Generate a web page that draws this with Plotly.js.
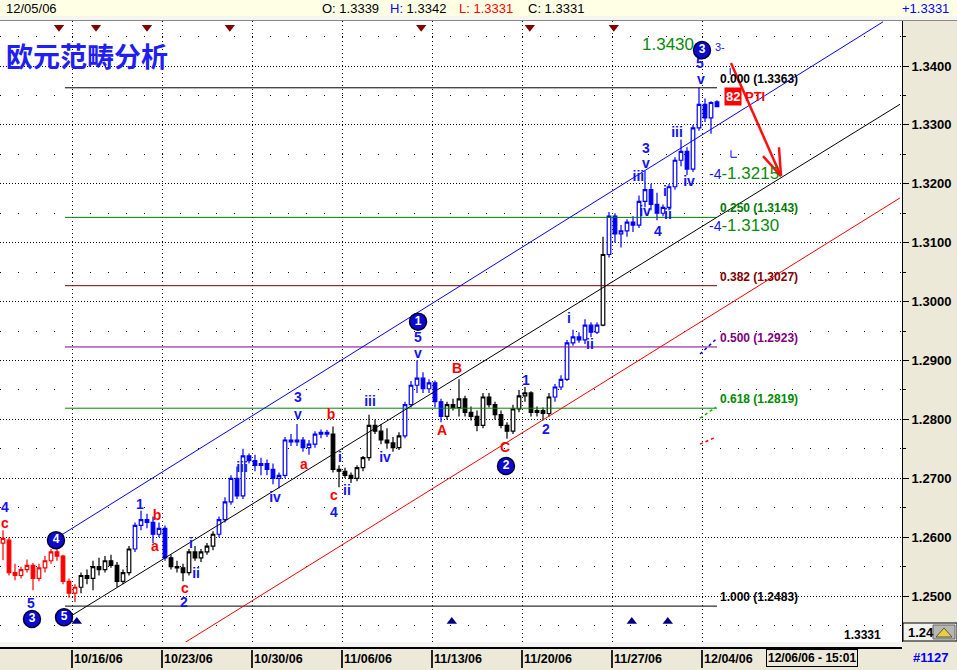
<!DOCTYPE html>
<html><head><meta charset="utf-8">
<script src="https://cdn.plot.ly/plotly-3.0.1.min.js"></script>
<style>html,body{margin:0;padding:0;background:#ECE9D8}#chart{width:957px;height:670px}</style>
</head><body><div id="chart"></div>
<script>
// ---------- DATA ----------
const barOpen = [
1.2590,1.2595,1.2540,1.2535,1.2545,1.2552,1.2530,1.2548,1.2560,1.2575,
1.2568,1.2525,1.2505,1.2515,1.2535,1.2530,1.2550,1.2545,1.2560,1.2552,
1.2525,1.2540,1.2580,1.2620,1.2630,1.2625,1.2605,1.2615,1.2565,1.2550,
1.2548,1.2540,1.2575,1.2565,1.2575,1.2585,1.2605,1.2630,1.2660,1.2700,
1.2670,1.2738,1.2730,1.2722,1.2725,1.2715,1.2700,1.2705,1.2765,1.2762,
1.2765,1.2752,1.2758,1.2775,1.2778,1.2775,1.2715,1.2712,1.2705,1.2700,
1.2718,1.2735,1.2790,1.2780,1.2765,1.2760,1.2752,1.2772,1.2825,1.2858,
1.2870,1.2852,1.2862,1.2830,1.2805,1.2825,1.2820,1.2835,1.2812,1.2805,
1.2790,1.2838,1.2825,1.2808,1.2790,1.2780,1.2818,1.2840,1.2845,1.2812,
1.2815,1.2810,1.2838,1.2855,1.2868,1.2930,1.2940,1.2935,1.2960,1.2948,
1.2960,1.3080,1.3145,1.3115,1.3120,1.3135,1.3130,1.3170,1.3190,1.3165,
1.3150,1.3160,1.3195,1.3240,1.3255,1.3225,1.3295,1.3335,1.3312,1.3339];
const barHigh = [
1.2612,1.2600,1.2555,1.2550,1.2562,1.2556,1.2555,1.2568,1.2580,1.2585,
1.2570,1.2530,1.2520,1.2540,1.2545,1.2560,1.2565,1.2568,1.2570,1.2558,
1.2545,1.2585,1.2625,1.2645,1.2640,1.2635,1.2625,1.2620,1.2570,1.2560,
1.2555,1.2580,1.2585,1.2580,1.2590,1.2610,1.2635,1.2668,1.2705,1.2720,
1.2750,1.2742,1.2740,1.2735,1.2732,1.2725,1.2710,1.2770,1.2775,1.2792,
1.2770,1.2765,1.2780,1.2783,1.2782,1.2788,1.2722,1.2718,1.2710,1.2722,
1.2738,1.2808,1.2800,1.2792,1.2785,1.2770,1.2778,1.2830,1.2865,1.2900,
1.2880,1.2868,1.2866,1.2835,1.2830,1.2835,1.2868,1.2840,1.2822,1.2815,
1.2845,1.2845,1.2830,1.2815,1.2795,1.2825,1.2850,1.2855,1.2848,1.2822,
1.2820,1.2845,1.2860,1.2875,1.2935,1.2952,1.2948,1.2970,1.2965,1.2965,
1.3110,1.3152,1.3150,1.3130,1.3140,1.3145,1.3180,1.3222,1.3200,1.3185,
1.3165,1.3200,1.3245,1.3275,1.3262,1.3300,1.3363,1.3345,1.3340,1.3342];
const barLow = [
1.2561,1.2535,1.2527,1.2530,1.2540,1.2510,1.2525,1.2540,1.2555,1.2560,
1.2520,1.2497,1.2490,1.2505,1.2520,1.2510,1.2535,1.2540,1.2548,1.2515,
1.2520,1.2535,1.2575,1.2612,1.2615,1.2590,1.2600,1.2560,1.2545,1.2540,
1.2525,1.2535,1.2560,1.2558,1.2570,1.2578,1.2600,1.2625,1.2655,1.2665,
1.2665,1.2725,1.2712,1.2705,1.2705,1.2690,1.2683,1.2700,1.2755,1.2755,
1.2745,1.2740,1.2752,1.2768,1.2770,1.2710,1.2685,1.2700,1.2692,1.2695,
1.2712,1.2730,1.2775,1.2758,1.2750,1.2745,1.2748,1.2768,1.2820,1.2845,
1.2845,1.2845,1.2820,1.2795,1.2800,1.2815,1.2805,1.2805,1.2798,1.2780,
1.2785,1.2820,1.2800,1.2785,1.2767,1.2775,1.2812,1.2830,1.2805,1.2805,
1.2798,1.2805,1.2830,1.2850,1.2865,1.2925,1.2930,1.2928,1.2940,1.2945,
1.2958,1.3075,1.3100,1.3092,1.3110,1.3118,1.3125,1.3160,1.3155,1.3138,
1.3145,1.3155,1.3190,1.3230,1.3215,1.3220,1.3290,1.3305,1.3285,1.3331];
const barClose = [
1.2598,1.2540,1.2535,1.2545,1.2552,1.2530,1.2548,1.2560,1.2575,1.2568,
1.2525,1.2505,1.2515,1.2535,1.2530,1.2550,1.2545,1.2560,1.2552,1.2525,
1.2540,1.2580,1.2620,1.2630,1.2625,1.2605,1.2615,1.2565,1.2550,1.2548,
1.2540,1.2575,1.2565,1.2575,1.2585,1.2605,1.2630,1.2660,1.2700,1.2670,
1.2738,1.2730,1.2722,1.2725,1.2715,1.2700,1.2705,1.2765,1.2762,1.2765,
1.2752,1.2758,1.2775,1.2778,1.2775,1.2715,1.2712,1.2705,1.2700,1.2718,
1.2735,1.2790,1.2780,1.2765,1.2760,1.2752,1.2772,1.2825,1.2858,1.2870,
1.2852,1.2862,1.2830,1.2805,1.2825,1.2820,1.2835,1.2812,1.2805,1.2790,
1.2838,1.2825,1.2808,1.2790,1.2780,1.2818,1.2840,1.2845,1.2812,1.2815,
1.2810,1.2838,1.2855,1.2868,1.2930,1.2940,1.2935,1.2960,1.2948,1.2960,
1.3080,1.3145,1.3115,1.3120,1.3135,1.3130,1.3170,1.3190,1.3165,1.3150,
1.3160,1.3195,1.3240,1.3255,1.3225,1.3295,1.3335,1.3312,1.3338,1.3331];

// wave colouring: first bar index of each coloured run
const segStart = [0, 13, 22, 28, 36, 55, 67, 74, 92, 100, 101];
const segColor = ['#ff0000','#000000','#0000ff','#000000','#0000ff','#000000','#0000ff','#000000','#0000ff','#000000','#0000ff'];

const weekLabels = ['10/16/06','10/23/06','10/30/06','11/06/06','11/13/06','11/20/06','11/27/06','12/04/06'];
const firstWeekBar = 11.5, barsPerWeek = 15;

// Fibonacci retracement
const fibRatio = ['0.000','0.250','0.382','0.500','0.618','1.000'];
const fibPrice = [1.3363, 1.3143, 1.3027, 1.2923, 1.2819, 1.2483];
const fibColor = ['#000000','#007a00','#800000','#800080','#008a00','#000000'];
const fibFromBar = 10.33, fibToBar = 119;

// channel lines
const chanX0 = [8.83, 10.17, 29.83], chanY0 = [1.2598, 1.2459, 1.2418];
const chanX1 = [146.67, 149.5, 149.5], chanY1 = [1.3475, 1.3335, 1.3176];
const chanColor = ['#0000ff', '#000000', '#ff0000'];

// wave labels
const blueText = ['4','5','1','i','ii','2','iii','iv','3','v','i','ii','4','iii','iv','5','v','1','2','i','ii','3','v','iii','iv','i','ii','4','iii','iv','5','v'];
const blueX = [0.33,4.67,22.83,31.33,32.17,30.17,39.83,45.33,49.17,49.17,56.17,57.33,55.17,61.17,63.67,69.17,69.17,87.17,90.5,94.33,97.83,107.17,107.17,105.9,107.0,110.33,110.83,109.17,112.33,114.33,116.17,116.33];
const blueY = [1.2649,1.2486,1.2653,1.2588,1.2537,1.2487,1.2716,1.2665,1.2836,1.2807,1.2733,1.2677,1.2641,1.2829,1.2733,1.2937,1.2911,1.2865,1.2782,1.2969,1.2926,1.3259,1.3232,1.3211,1.3152,1.3186,1.3147,1.3118,1.3286,1.3203,1.3403,1.3376];
const redText = ['c','b','a','c','a','b','c','B','A','C'];
const redX = [0.33,25.67,25.33,30.33,50.17,54.67,55.17,75.67,73.17,83.67];
const redY = [1.2622,1.2636,1.2582,1.2512,1.2722,1.2806,1.2669,1.2884,1.2780,1.2750];
const circleText = ['3','4','5','1','2','3'];
const circleX = [4.83, 8.83, 10.17, 69.17, 83.83, 116.5];
const circleY = [1.2461, 1.2595, 1.2464, 1.2966, 1.2721, 1.3427];

// signal triangles
const topTriX = [9.33, 15.5, 24, 37.8, 69.7, 87.8, 101.8];
const botTriX = [12.3, 74.8, 104.8, 110.8];

// targets
const targetText = ['1.3430', '1.3215', '1.3130'];
const targetX = [110.83, 117.33, 117.33];
const targetY = [1.3436, 1.3218, 1.3129];

// ---------- BUILD ----------
const FONT = 'Liberation Sans, Arial, sans-serif';
const NARROW = 'Liberation Sans Narrow, Liberation Sans, Arial, sans-serif';
const n = barClose.length;
const fmt = v => v.toFixed(4);
const X0 = -0.5, X1 = -0.5 + 902/6;
const Y0 = 1.242207, Y1 = 1.347640;
const px = X => X / 902;               // paper x from pixel
const py = Y => (642 - Y) / 621;        // paper y from pixel

const traces = [];
fibPrice.forEach((p, k) => traces.push({type:'scatter', mode:'lines', x:[fibFromBar, fibToBar], y:[p, p],
  line:{color:fibColor[k], width:1}, hoverinfo:'skip'}));
chanX0.forEach((x0, k) => traces.push({type:'scatter', mode:'lines', x:[x0, chanX1[k]], y:[chanY0[k], chanY1[k]],
  line:{color:chanColor[k], width:1}, hoverinfo:'skip'}));
segStart.forEach((s, k) => {
  const e = k + 1 < segStart.length ? segStart[k + 1] : n;
  const xs = []; for (let i = s; i < e; i++) xs.push(i);
  const c = segColor[k];
  traces.push({type:'candlestick', x:xs, open:barOpen.slice(s, e), high:barHigh.slice(s, e),
    low:barLow.slice(s, e), close:barClose.slice(s, e), whiskerwidth:0,
    increasing:{line:{color:c, width:1.2}, fillcolor:'#ffffff'},
    decreasing:{line:{color:c, width:1.2}, fillcolor:c}, hoverinfo:'none'});
});
traces.push({type:'scatter', mode:'text', x:blueX, y:blueY, text:blueText, textposition:'middle center',
  textfont:{family:FONT, size:14, color:'#1414f0', weight:'bold'}, hoverinfo:'skip'});
traces.push({type:'scatter', mode:'text', x:redX, y:redY, text:redText, textposition:'middle center',
  textfont:{family:FONT, size:14, color:'#ff0000', weight:'bold'}, hoverinfo:'skip'});
traces.push({type:'scatter', mode:'markers+text', x:circleX, y:circleY, text:circleText, textposition:'middle center',
  marker:{size:17, color:'#0a0ad0', line:{color:'#000030', width:1.5}},
  textfont:{family:FONT, size:12, color:'#ffffff', weight:'bold'}, hoverinfo:'skip'});
traces.push({type:'scatter', mode:'markers', x:topTriX, y:topTriX.map(() => 1.3466),
  marker:{symbol:'triangle-down', size:9, color:'#800000'}, hoverinfo:'skip'});
traces.push({type:'scatter', mode:'markers', x:botTriX, y:botTriX.map(() => 1.2457),
  marker:{symbol:'triangle-up', size:9, color:'#000080'}, hoverinfo:'skip'});

const tickvals = weekLabels.map((_, k) => firstWeekBar + barsPerWeek * k);

const ann = [];
fibPrice.forEach((p, k) => ann.push({x:119.17, y:p, xref:'x', yref:'y', xanchor:'left', yanchor:'bottom', yshift:0,
  text:`${fibRatio[k]} (${fmt(p)})`, showarrow:false, font:{family:FONT, size:12, color:fibColor[k], weight:'bold'}}));
ann.push({x:targetX[0], y:targetY[0], xref:'x', yref:'y', xanchor:'center', yanchor:'middle', text:targetText[0], showarrow:false,
  font:{family:FONT, size:17, color:'#0a8a0a'}});
for (let k = 1; k < 3; k++) ann.push({x:targetX[k], y:targetY[k], xref:'x', yref:'y', xanchor:'left', yanchor:'middle', showarrow:false,
  text:`<span style="color:#1414f0;font-size:14px">-4</span>-${targetText[k]}`, font:{family:FONT, size:17, color:'#0a8a0a'}});
ann.push({x:118.3, y:1.3432, xref:'x', yref:'y', text:'3-', showarrow:false, xanchor:'left', yanchor:'middle', font:{family:FONT, size:11, color:'#1414f0'}});
ann.push({x:121.67, y:1.3349, xref:'x', yref:'y', xanchor:'center', yanchor:'middle', text:'82', showarrow:false, bgcolor:'#ff0000', borderpad:1,
  font:{family:FONT, size:13, color:'#ffffff', weight:'bold'}});
ann.push({x:125.4, y:1.3349, xref:'x', yref:'y', xanchor:'center', yanchor:'middle', text:'PTI', showarrow:false, font:{family:FONT, size:13, color:'#ff0000', weight:'bold'}});
ann.push({x:px(4), y:py(55), xref:'paper', yref:'paper', xanchor:'left', yanchor:'middle', showarrow:false,
  text:'欧元范畴分析', font:{family:'Noto Sans CJK SC, sans-serif', size:27, color:'#1e1ef5', weight:'bold'}});
const hdrY = py(9);
const hfont = {family:NARROW, size:13, color:'#000'};
const hdr = (X, text, font, xa) => ann.push({x:px(X), y:hdrY, xref:'paper', yref:'paper', xanchor:xa || 'left', yanchor:'middle', showarrow:false, text:text, font:font});
hdr(4, '12/05/06', hfont);
hdr(320, `O: ${fmt(barOpen[n-1])}`, hfont);
hdr(388, `<span style="color:#0000ff">H:</span> ${fmt(barHigh[n-1])}`, hfont);
hdr(457, `L: ${fmt(barLow[n-1])}`, {family:NARROW, size:13, color:'#ff0000'});
hdr(526, `C: ${fmt(barClose[n-1])}`, hfont);
hdr(951, `+${fmt(barClose[n-1])}`, {family:NARROW, size:13, color:'#0000ff'}, 'right');
ann.push({x:px(883), y:py(635), xref:'paper', yref:'paper', xanchor:'right', yanchor:'middle', showarrow:false, text:fmt(barClose[n-1]),
  font:{family:FONT, size:12, color:'#000', weight:'bold'}});
ann.push({x:px(812), y:py(658), xref:'paper', yref:'paper', xanchor:'center', yanchor:'middle', showarrow:false, text:'12/06/06 - 15:01',
  bordercolor:'#000', borderwidth:1, borderpad:1, font:{family:FONT, size:12, color:'#000', weight:'bold'}});
ann.push({x:px(930), y:py(658), xref:'paper', yref:'paper', xanchor:'center', yanchor:'middle', showarrow:false, text:'#1127',
  font:{family:FONT, size:13, color:'#0000ff', weight:'bold'}});
ann.push({x:px(906), y:py(632), xref:'paper', yref:'paper', xanchor:'left', yanchor:'middle', showarrow:false, text:'1.24',
  font:{family:FONT, size:13, color:'#000', weight:'bold'}});

const shapes = [];
shapes.push({type:'rect', xref:'paper', yref:'paper', x0:0, x1:px(957), y0:py(16), y1:py(0), fillcolor:'#FFFFE6', line:{width:0}, layer:'below'});
shapes.push({type:'rect', xref:'paper', yref:'paper', x0:0, x1:px(957), y0:py(20), y1:py(16), fillcolor:'#F6F6F0', line:{width:0}, layer:'below'});
shapes.push({type:'line', xref:'paper', yref:'paper', x0:0, x1:px(957), y0:py(20.5), y1:py(20.5), line:{color:'#888', width:1}});
shapes.push({type:'rect', xref:'paper', yref:'paper', x0:0, x1:1, y0:py(647), y1:py(642), fillcolor:'#F4F4F0', line:{width:0}});
shapes.push({type:'line', xref:'paper', yref:'paper', x0:0, x1:1, y0:py(648), y1:py(648), line:{color:'#000', width:2}});
tickvals.forEach(tv => {
  const xp = (tv - X0) / (X1 - X0);
  shapes.push({type:'line', xref:'paper', yref:'paper', x0:xp, x1:xp, y0:py(650), y1:py(668), line:{color:'#222', width:2}});
});
shapes.push({type:'rect', xref:'paper', yref:'paper', x0:px(903), x1:px(957), y0:py(641), y1:py(623), fillcolor:'#F2F2EE', line:{color:'#000', width:1}});
shapes.push({type:'rect', xref:'paper', yref:'paper', x0:px(933), x1:px(955), y0:py(639), y1:py(625), fillcolor:'#B8B8B0', line:{color:'#666', width:1}});
shapes.push({type:'path', xref:'paper', yref:'paper', path:`M ${px(936)},${py(637)} L ${px(944)},${py(628)} L ${px(952)},${py(637)} Z`, fillcolor:'#E8D040', line:{color:'#555', width:1}});
const arrowLine = {color:'#ff1010', width:2.5};
shapes.push({type:'line', xref:'x', yref:'y', x0:121.33, y0:1.3405, x1:129.67, y1:1.3213, line:arrowLine});
shapes.push({type:'line', xref:'x', yref:'y', x0:126.67, y0:1.3247, x1:129.67, y1:1.3213, line:arrowLine});
shapes.push({type:'line', xref:'x', yref:'y', x0:129.33, y0:1.3262, x1:129.67, y1:1.3213, line:arrowLine});
shapes.push({type:'line', xref:'x', yref:'y', x0:121.33, y0:1.3257, x1:121.33, y1:1.3245, line:{color:'#0000ff', width:1}});
shapes.push({type:'line', xref:'x', yref:'y', x0:121.33, y0:1.3245, x1:122.33, y1:1.3245, line:{color:'#0000ff', width:1}});
shapes.push({type:'line', xref:'x', yref:'y', x0:121.2, y0:1.3397, x1:121.2, y1:1.3385, line:{color:'#0000ff', width:1}});
shapes.push({type:'line', xref:'x', yref:'y', x0:116.17, y0:1.2911, x1:118.83, y1:1.2936, line:{color:'#0000ff', width:1.5, dash:'dot'}});
shapes.push({type:'line', xref:'x', yref:'y', x0:116.17, y0:1.2802, x1:118.83, y1:1.2821, line:{color:'#00c000', width:1.5, dash:'dot'}});
shapes.push({type:'line', xref:'x', yref:'y', x0:116.17, y0:1.2758, x1:118.83, y1:1.2770, line:{color:'#ff0000', width:1.5, dash:'dot'}});

const layout = {
  width:957, height:670, margin:{l:0, r:55, t:21, b:28, pad:0},
  paper_bgcolor:'#ECE9D8', plot_bgcolor:'#ffffff', showlegend:false, boxgap:0.15,
  xaxis:{range:[X0, X1], tickmode:'array', tickvals:tickvals, ticktext:weekLabels, ticks:'',
    ticklabelposition:'outside right', ticklabelstandoff:7, ticklabelshift:2,
    tickfont:{family:FONT, size:12.5, color:'#000', weight:'bold'},
    showgrid:true, gridcolor:'#000', griddash:'1px,3px', gridwidth:1, zeroline:false, showline:false,
    rangeslider:{visible:false}, fixedrange:true},
  yaxis:{side:'right', range:[Y0, Y1], tickmode:'linear', tick0:1.24, dtick:0.01, tickformat:'.4f',
    ticks:'outside', ticklen:6, tickcolor:'#000', tickwidth:1, showline:true, linecolor:'#000', linewidth:1,
    showgrid:true, gridcolor:'#000', griddash:'1px,2px', gridwidth:1, zeroline:false, fixedrange:true,
    tickfont:{family:FONT, size:13, color:'#000', weight:'bold'},
    minor:{tick0:1.24, dtick:0.005, ticks:'outside', ticklen:3, tickcolor:'#000', showgrid:true, gridcolor:'#000', griddash:'1px,17px'}},
  annotations:ann, shapes:shapes
};

Plotly.newPlot('chart', traces, layout, {displayModeBar:false, staticPlot:true});
</script>
</body></html>
